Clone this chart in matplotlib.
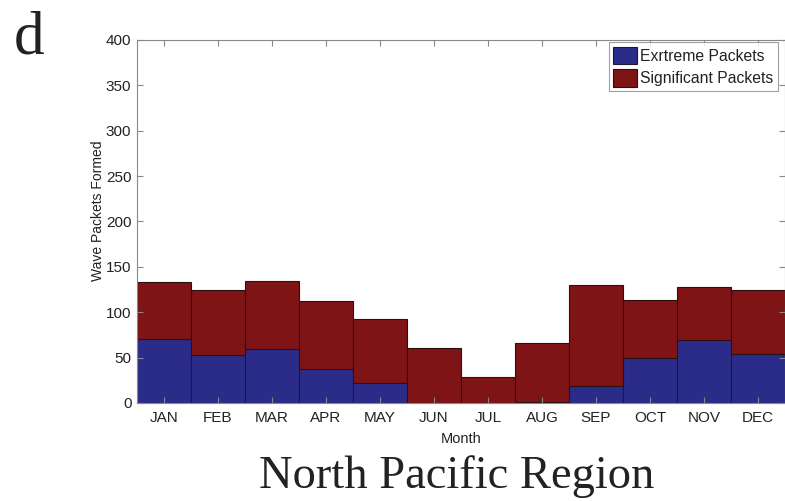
import matplotlib
matplotlib.use("Agg")
import matplotlib.pyplot as plt
import numpy as np

months = ["JAN", "FEB", "MAR", "APR", "MAY", "JUN", "JUL", "AUG", "SEP", "OCT", "NOV", "DEC"]
extreme = [70, 53, 59, 37, 22, 0, 0, 1, 19, 50, 69, 54]
total = [133, 124, 134, 112, 93, 61, 29, 66, 130, 114, 128, 125]
significant = [t - e for t, e in zip(total, extreme)]

blue = "#2B2C8A"
red = "#7E1416"

W, H = 785, 501
fig = plt.figure(figsize=(W/100, H/100), dpi=100)
ax = fig.add_axes([137/W, 98/H, 648/W, 363/H])
x = np.arange(1, 13)
ax.bar(x, extreme, width=1.0, color=blue, edgecolor="#1a1a2a", linewidth=0.8, label="Exrtreme Packets")
ax.bar(x, significant, width=1.0, bottom=extreme, color=red, edgecolor="#2a1010", linewidth=0.8, label="Significant Packets")

ax.set_xlim(0.5, 12.5)
ax.set_ylim(0, 400)
ax.set_yticks(np.arange(0, 401, 50))
ax.set_xticks(x)
ax.set_xticklabels(months)
for s in ax.spines.values():
    s.set_color("#888888")
    s.set_linewidth(0.8)
ax.tick_params(direction="in", top=True, right=True, length=4, color="#888888",
               labelsize=11, pad=4)
ax.tick_params(axis="x", pad=6)
for lab in ax.get_xticklabels() + ax.get_yticklabels():
    lab.set_fontfamily("Liberation Sans")
    lab.set_color("#222222")
ax.set_ylabel("Wave Packets Formed", fontsize=10, family="Liberation Sans", color="#222222")
ax.yaxis.set_label_coords(-0.050, 0.53)
ax.set_xlabel("Month", fontsize=10.5, family="Liberation Sans", labelpad=5, color="#222222")

leg = ax.legend(loc="upper right", bbox_to_anchor=(778/W, 1 - 42/H), bbox_transform=fig.transFigure,
                prop={"family": "Liberation Sans", "size": 11.3},
                frameon=True, fancybox=False, edgecolor="#888888", borderpad=0.3,
                handlelength=1.5, handleheight=1.35, handletextpad=0.2, labelspacing=0.3,
                borderaxespad=0)
leg.get_frame().set_linewidth(0.8)
for t in leg.get_texts():
    t.set_color("#222222")

fig.text(14/W, 1 - 54/H, "d", fontsize=44, family="Liberation Serif", ha="left", va="baseline", color="#222222")
fig.text(457/W, 1 - 488/H, "North Pacific Region", fontsize=33.5, family="Liberation Serif",
         ha="center", va="baseline", color="#222222")

fig.savefig("out.png", dpi=100)
